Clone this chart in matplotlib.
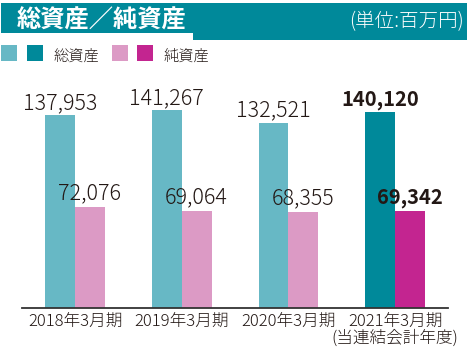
import matplotlib
matplotlib.use("Agg")
import matplotlib.pyplot as plt
from matplotlib.patches import Rectangle
import numpy as np

categories = ["2018年3月期", "2019年3月期", "2020年3月期", "2021年3月期\n(当連結会計年度)"]
total_assets = [137953, 141267, 132521, 140120]
net_assets = [72076, 69064, 68355, 69342]
title = "総資産／純資産"
unit = "(単位:百万円)"
legend_labels = ["総資産", "純資産"]

C_TEAL_L = "#67B8C5"
C_TEAL_D = "#00899A"
C_PINK_L = "#DC9AC5"
C_PINK_D = "#C32590"
TXT = "#231815"

plt.rcParams['font.family'] = ['Noto Sans CJK JP', 'DejaVu Sans']

W, H = 471, 347
fig = plt.figure(figsize=(W / 100, H / 100), dpi=100)

def fx(px):
    return px / W

def fy(py):
    return 1 - py / H

# header band
fig.patches.append(Rectangle((fx(1), fy(40)), fx(467) - fx(1), fy(3) - fy(40),
                             transform=fig.transFigure, color=C_TEAL_D, lw=0, zorder=0))
fig.patches.append(Rectangle((fx(0), fy(40)), fx(193), fy(33) - fy(40),
                             transform=fig.transFigure, color="white", lw=0, zorder=1))
fig.text(fx(17), fy(21), title, color="white", fontsize=17.5, fontweight="bold",
         va="center", ha="left")
fig.text(fx(464), fy(22), unit, color="white", fontsize=14, fontweight="light",
         va="center", ha="right")

# legend
sq = 16
for x0, c in [(1, C_TEAL_L), (27, C_TEAL_D), (112, C_PINK_L), (137, C_PINK_D)]:
    fig.patches.append(Rectangle((fx(x0), fy(45 + sq)), fx(sq), fy(45) - fy(45 + sq),
                                 transform=fig.transFigure, color=c, lw=0))
fig.text(fx(53), fy(57), legend_labels[0], color=TXT, fontsize=11, fontweight="light",
         va="center", ha="left")
fig.text(fx(164), fy(57), legend_labels[1], color=TXT, fontsize=11, fontweight="light",
         va="center", ha="left")

# axes
base_px = 308
scale = 715.0  # value units per pixel
ymax = 170000
ax_h = ymax / scale
ax = fig.add_axes([fx(22), (H - base_px) / H, fx(448) - fx(22), ax_h / H])
ax.set_ylim(0, ymax)
ax.set_xlim(-0.497, 3.496)

x = np.arange(len(categories))
bw = 0.28
ta_colors = [C_TEAL_L] * 3 + [C_TEAL_D]
na_colors = [C_PINK_L] * 3 + [C_PINK_D]
ax.bar(x - bw / 2, total_assets, width=bw, color=ta_colors, lw=0)
ax.bar(x + bw / 2, net_assets, width=bw, color=na_colors, lw=0)

for i in range(len(categories)):
    w = "bold" if i == 3 else "light"
    fs = 14.5 if i == 3 else 15.5
    ax.annotate(f"{total_assets[i]:,}", (x[i] - bw / 2, total_assets[i]),
                xytext=(0, 4.4), textcoords="offset points", ha="center", va="baseline",
                fontsize=fs, fontweight=w, color=TXT)
    ax.annotate(f"{net_assets[i]:,}", (x[i] + bw / 2, net_assets[i]),
                xytext=(0, 5.8), textcoords="offset points", ha="center", va="baseline",
                fontsize=fs, fontweight=w, color=TXT)

for s in ["top", "right", "left"]:
    ax.spines[s].set_visible(False)
ax.spines["bottom"].set_color("#333333")
ax.spines["bottom"].set_linewidth(1.3)
ax.set_yticks([])
ax.set_xticks(x)
ax.set_xticklabels(categories, fontsize=12, fontweight="light", color=TXT, linespacing=0.95)
ax.tick_params(axis="x", length=0, pad=4)
ax.patch.set_visible(False)

fig.savefig("out.png", dpi=100)
